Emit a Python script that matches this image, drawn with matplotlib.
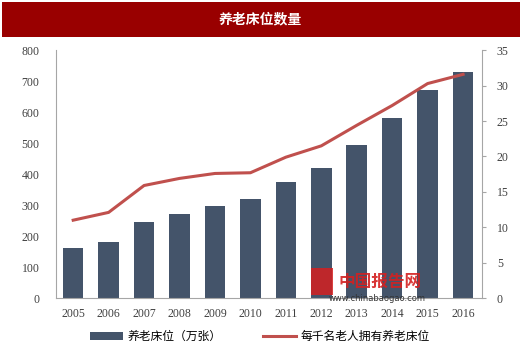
import numpy as np
import matplotlib.pyplot as plt
from matplotlib.patches import Rectangle

years = ["2005", "2006", "2007", "2008", "2009", "2010",
         "2011", "2012", "2013", "2014", "2015", "2016"]
beds = [161, 181, 245, 271, 297, 319, 374, 419, 494, 581, 673, 730]
beds_per_k = [11.0, 12.1, 15.9, 16.9, 17.6, 17.7, 19.9, 21.5, 24.4, 27.2, 30.3, 31.6]

title = "养老床位数量"
bar_label = "养老床位（万张）"
line_label = "每千名老人拥有养老床位"

serif = ["Liberation Serif", "DejaVu Serif"]
cjk = ["Noto Sans CJK SC", "DejaVu Sans"]

fig = plt.figure(figsize=(5.2, 3.54), dpi=100)

# title banner
fig.patches.append(Rectangle((0.004, 0.895), 0.996, 0.098, transform=fig.transFigure,
                             facecolor="#990000", edgecolor="none"))
fig.text(0.5, 0.944, title, color="white", ha="center", va="center",
         fontsize=10, fontweight="bold", family=cjk)

ax = fig.add_axes([0.108, 0.158, 0.818, 0.700])
x = np.arange(len(years))
ax.bar(x, beds, width=0.58, color="#44546A", label=bar_label, zorder=2)
ax.set_xlim(-0.48, len(years) - 0.48)
ax.set_ylim(0, 800)
ax.set_yticks(range(0, 801, 100))
ax.set_xticks(x)
ax.set_xticklabels(years)

ax2 = ax.twinx()
ax2.plot(x, beds_per_k, color="#C0504D", lw=2.2, label=line_label, zorder=3)
ax2.set_ylim(0, 35)
ax2.set_yticks(range(0, 36, 5))

for a in (ax, ax2):
    for s in a.spines.values():
        s.set_color("#A6A6A6")
    a.spines["top"].set_visible(False)
    for lab in a.get_xticklabels() + a.get_yticklabels():
        lab.set_family(serif)
        lab.set_fontsize(8.5)
        lab.set_color("#404040")
ax.spines["right"].set_visible(False)
ax2.spines["left"].set_visible(False)
ax2.spines["bottom"].set_visible(False)
ax.tick_params(axis="y", length=0, pad=12)
ax.tick_params(axis="x", length=0, pad=7)
ax2.tick_params(axis="y", length=3, color="#A6A6A6", pad=8)

# watermark (inside the plot, above the year labels)
fig.patches.append(Rectangle((0.598, 0.168), 0.042, 0.075, transform=fig.transFigure,
                             facecolor="#D42020", edgecolor="none", alpha=0.85, zorder=4))
fig.text(0.73, 0.205, "中国报告网", color="#D42020", fontsize=12,
         fontweight="bold", family=cjk, ha="center", va="center", alpha=0.9, zorder=5)
fig.text(0.725, 0.158, "www.chinabaogao.com", color="#333333", fontsize=6,
         ha="center", va="center", zorder=5)

h1, l1 = ax.get_legend_handles_labels()
h2, l2 = ax2.get_legend_handles_labels()
fig.legend(h1 + h2, l1 + l2, loc="center", bbox_to_anchor=(0.5, 0.05), ncol=2,
           frameon=False, prop={"family": cjk, "size": 8.5}, handlelength=2.8,
           columnspacing=3.5, handletextpad=0.4)

fig.savefig("out.png", dpi=100)
